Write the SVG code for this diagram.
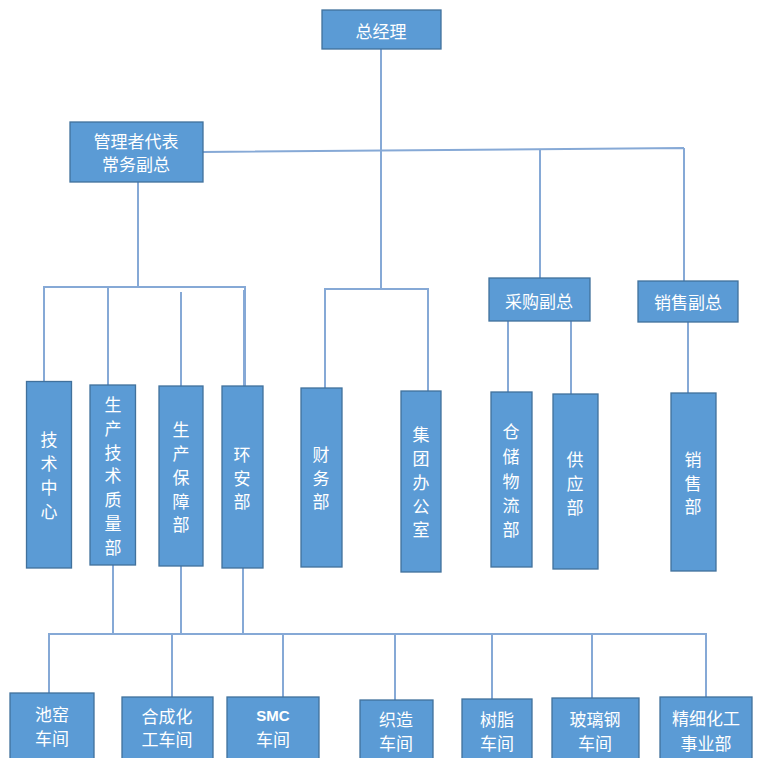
<svg xmlns="http://www.w3.org/2000/svg" width="757" height="758" viewBox="0 0 757 758">
<style>
.box{fill:#5B9BD5;stroke:#41719C;stroke-width:1.3}
.t{fill:#fff;font-family:"Noto Sans CJK SC","Noto Sans",sans-serif;font-size:17px;text-anchor:middle;dominant-baseline:central}
.b{font-family:"Liberation Sans","Noto Sans",sans-serif;font-weight:bold;font-size:15px}
.ln{stroke:#86A9D6;stroke-width:2;fill:none}
</style>
<rect width="757" height="758" fill="#fff"/>
<g id="connectors">
<path class="ln" d="M381 49V290M325 388V289H428V391"/>
<path class="ln" d="M203 152L684 148M540 150V278M684 148V281"/>
<path class="ln" d="M138 182V287M44 381V287H245V386M108 287V385M181 292V386M244 290V386"/>
<path class="ln" d="M508 321V392M571 321V394M688 322V393"/>
<path class="ln" d="M113 565V635M181 566V635M243 568V635M49 693V634H706V697M172 634V697M283 634V697M395 634V700M492 634V699M592 634V698"/>
</g>
<g id="n-zjl"><rect class="box" x="322" y="10" width="119" height="39"/><text class="t" x="381" y="30">总经理</text></g>
<g id="n-glz"><rect class="box" x="70" y="122" width="133" height="60"/><text class="t" x="136" y="140">管理者代表</text><text class="t" x="136" y="163">常务副总</text></g>
<g id="n-jszx"><rect class="box" x="26.5" y="381.5" width="45" height="186.5"/><text class="t" x="49"><tspan x="49" y="438">技</tspan><tspan x="49" y="462">术</tspan><tspan x="49" y="486">中</tspan><tspan x="49" y="510">心</tspan></text></g>
<g id="n-scjszlb"><rect class="box" x="90" y="385" width="45.5" height="180"/><text class="t"><tspan x="113" y="403">生</tspan><tspan x="113" y="427">产</tspan><tspan x="113" y="451">技</tspan><tspan x="113" y="474">术</tspan><tspan x="113" y="498">质</tspan><tspan x="113" y="522">量</tspan><tspan x="113" y="546">部</tspan></text></g>
<g id="n-scbzb"><rect class="box" x="159" y="386" width="44" height="180"/><text class="t"><tspan x="181" y="428">生</tspan><tspan x="181" y="452">产</tspan><tspan x="181" y="476">保</tspan><tspan x="181" y="500">障</tspan><tspan x="181" y="523">部</tspan></text></g>
<g id="n-hab"><rect class="box" x="222" y="386" width="41" height="182"/><text class="t"><tspan x="242" y="453">环</tspan><tspan x="242" y="477">安</tspan><tspan x="242" y="500">部</tspan></text></g>
<g id="n-cwb"><rect class="box" x="301" y="388" width="41" height="179"/><text class="t"><tspan x="321" y="453">财</tspan><tspan x="321" y="477">务</tspan><tspan x="321" y="500">部</tspan></text></g>
<g id="n-jtbgs"><rect class="box" x="401" y="391" width="40" height="181"/><text class="t"><tspan x="421" y="433">集</tspan><tspan x="421" y="457">团</tspan><tspan x="421" y="481">办</tspan><tspan x="421" y="505">公</tspan><tspan x="421" y="528">室</tspan></text></g>
<g id="n-cgfz"><rect class="box" x="489" y="278" width="101" height="43"/><text class="t" x="539" y="300">采购副总</text></g>
<g id="n-xsfz"><rect class="box" x="638" y="281" width="100" height="41"/><text class="t" x="688" y="301">销售副总</text></g>
<g id="n-ccwlb"><rect class="box" x="491" y="392" width="41" height="175"/><text class="t"><tspan x="511" y="430">仓</tspan><tspan x="511" y="455">储</tspan><tspan x="511" y="480">物</tspan><tspan x="511" y="504">流</tspan><tspan x="511" y="528">部</tspan></text></g>
<g id="n-gyb"><rect class="box" x="553" y="394" width="45" height="175"/><text class="t"><tspan x="575" y="458">供</tspan><tspan x="575" y="482">应</tspan><tspan x="575" y="506">部</tspan></text></g>
<g id="n-xsb"><rect class="box" x="671" y="393" width="45" height="178"/><text class="t"><tspan x="693" y="458">销</tspan><tspan x="693" y="482">售</tspan><tspan x="693" y="505">部</tspan></text></g>
<g id="n-cy"><rect class="box" x="10" y="693" width="84" height="70"/><text class="t" x="52" y="713">池窑</text><text class="t" x="52" y="737">车间</text></g>
<g id="n-hchg"><rect class="box" x="122" y="697" width="91" height="66"/><text class="t" x="167" y="715">合成化</text><text class="t" x="167" y="738">工车间</text></g>
<g id="n-smc"><rect class="box" x="227" y="697" width="92" height="66"/><text class="t b" x="273" y="715">SMC</text><text class="t" x="273" y="738">车间</text></g>
<g id="n-zz"><rect class="box" x="360" y="700" width="73" height="63"/><text class="t" x="396" y="718">织造</text><text class="t" x="396" y="742">车间</text></g>
<g id="n-sz"><rect class="box" x="462" y="699" width="70" height="64"/><text class="t" x="497" y="718">树脂</text><text class="t" x="497" y="742">车间</text></g>
<g id="n-blg"><rect class="box" x="552" y="698" width="87" height="65"/><text class="t" x="595" y="718">玻璃钢</text><text class="t" x="595" y="742">车间</text></g>
<g id="n-jxhg"><rect class="box" x="660" y="697" width="92" height="66"/><text class="t" x="706" y="717">精细化工</text><text class="t" x="706" y="742">事业部</text></g>
</svg>
